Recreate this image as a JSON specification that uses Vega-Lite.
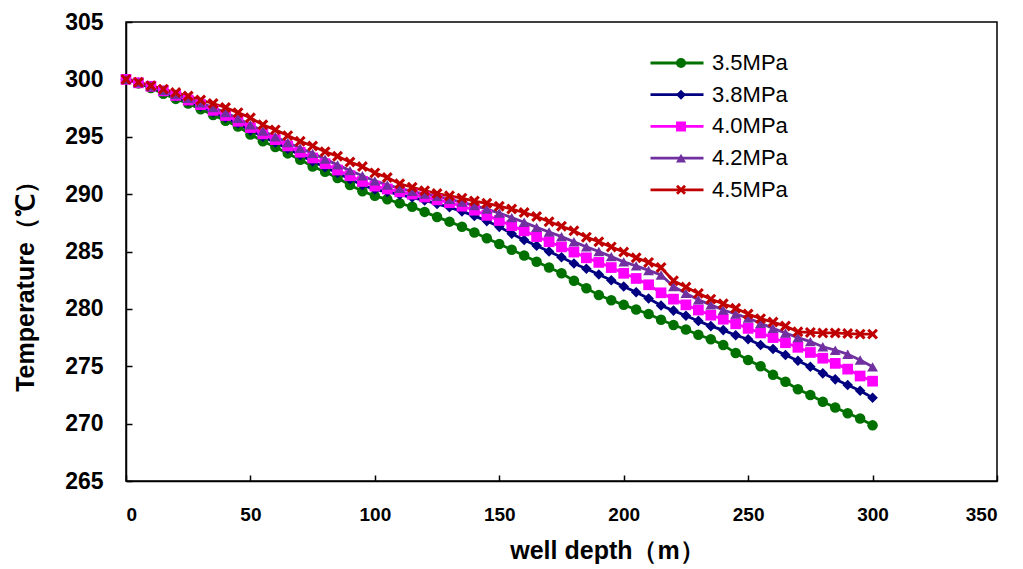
{
"$schema": "https://vega.github.io/schema/vega-lite/v6.json",
"width": 871, "height": 459,
"autosize": {"type": "none"},
"padding": {"left": 126, "top": 22, "right": 26, "bottom": 88},
"background": "white",
"config": {"view": {"stroke": "black", "strokeWidth": 1.5}, "font": "Liberation Sans"},
"datasets": {"t": [
{"d":0,"s":"3.5MPa","t":300.0},{"d":5,"s":"3.5MPa","t":299.65},{"d":10,"s":"3.5MPa","t":299.25},{"d":15,"s":"3.5MPa","t":298.75},{"d":20,"s":"3.5MPa","t":298.3},{"d":25,"s":"3.5MPa","t":297.9},{"d":30,"s":"3.5MPa","t":297.4},{"d":35,"s":"3.5MPa","t":296.9},{"d":40,"s":"3.5MPa","t":296.4},{"d":45,"s":"3.5MPa","t":295.9},
{"d":50,"s":"3.5MPa","t":295.2},{"d":55,"s":"3.5MPa","t":294.6},{"d":60,"s":"3.5MPa","t":294.1},{"d":65,"s":"3.5MPa","t":293.55},{"d":70,"s":"3.5MPa","t":293.0},{"d":75,"s":"3.5MPa","t":292.4},{"d":80,"s":"3.5MPa","t":291.95},{"d":85,"s":"3.5MPa","t":291.4},{"d":90,"s":"3.5MPa","t":290.8},{"d":95,"s":"3.5MPa","t":290.25},
{"d":100,"s":"3.5MPa","t":289.85},{"d":105,"s":"3.5MPa","t":289.55},{"d":110,"s":"3.5MPa","t":289.2},{"d":115,"s":"3.5MPa","t":288.9},{"d":120,"s":"3.5MPa","t":288.45},{"d":125,"s":"3.5MPa","t":288.0},{"d":130,"s":"3.5MPa","t":287.6},{"d":135,"s":"3.5MPa","t":287.15},{"d":140,"s":"3.5MPa","t":286.65},{"d":145,"s":"3.5MPa","t":286.15},
{"d":150,"s":"3.5MPa","t":285.65},{"d":155,"s":"3.5MPa","t":285.15},{"d":160,"s":"3.5MPa","t":284.65},{"d":165,"s":"3.5MPa","t":284.1},{"d":170,"s":"3.5MPa","t":283.6},{"d":175,"s":"3.5MPa","t":283.1},{"d":180,"s":"3.5MPa","t":282.45},{"d":185,"s":"3.5MPa","t":281.8},{"d":190,"s":"3.5MPa","t":281.2},{"d":195,"s":"3.5MPa","t":280.75},
{"d":200,"s":"3.5MPa","t":280.35},{"d":205,"s":"3.5MPa","t":279.95},{"d":210,"s":"3.5MPa","t":279.55},{"d":215,"s":"3.5MPa","t":279.05},{"d":220,"s":"3.5MPa","t":278.6},{"d":225,"s":"3.5MPa","t":278.2},{"d":230,"s":"3.5MPa","t":277.75},{"d":235,"s":"3.5MPa","t":277.35},{"d":240,"s":"3.5MPa","t":276.85},{"d":245,"s":"3.5MPa","t":276.15},
{"d":250,"s":"3.5MPa","t":275.55},{"d":255,"s":"3.5MPa","t":275.0},{"d":260,"s":"3.5MPa","t":274.25},{"d":265,"s":"3.5MPa","t":273.65},{"d":270,"s":"3.5MPa","t":273.0},{"d":275,"s":"3.5MPa","t":272.5},{"d":280,"s":"3.5MPa","t":271.9},{"d":285,"s":"3.5MPa","t":271.4},{"d":290,"s":"3.5MPa","t":270.9},{"d":295,"s":"3.5MPa","t":270.45},{"d":300,"s":"3.5MPa","t":269.85},
{"d":0,"s":"3.8MPa","t":300.0},{"d":5,"s":"3.8MPa","t":299.7},{"d":10,"s":"3.8MPa","t":299.35},{"d":15,"s":"3.8MPa","t":298.95},{"d":20,"s":"3.8MPa","t":298.5},{"d":25,"s":"3.8MPa","t":298.1},{"d":30,"s":"3.8MPa","t":297.65},{"d":35,"s":"3.8MPa","t":297.15},{"d":40,"s":"3.8MPa","t":296.65},{"d":45,"s":"3.8MPa","t":296.15},
{"d":50,"s":"3.8MPa","t":295.55},{"d":55,"s":"3.8MPa","t":295.0},{"d":60,"s":"3.8MPa","t":294.5},{"d":65,"s":"3.8MPa","t":293.95},{"d":70,"s":"3.8MPa","t":293.4},{"d":75,"s":"3.8MPa","t":292.85},{"d":80,"s":"3.8MPa","t":292.35},{"d":85,"s":"3.8MPa","t":291.85},{"d":90,"s":"3.8MPa","t":291.3},{"d":95,"s":"3.8MPa","t":290.8},
{"d":100,"s":"3.8MPa","t":290.4},{"d":105,"s":"3.8MPa","t":290.2},{"d":110,"s":"3.8MPa","t":289.95},{"d":115,"s":"3.8MPa","t":289.7},{"d":120,"s":"3.8MPa","t":289.45},{"d":125,"s":"3.8MPa","t":289.15},{"d":130,"s":"3.8MPa","t":288.85},{"d":135,"s":"3.8MPa","t":288.5},{"d":140,"s":"3.8MPa","t":288.1},{"d":145,"s":"3.8MPa","t":287.65},
{"d":150,"s":"3.8MPa","t":287.15},{"d":155,"s":"3.8MPa","t":286.55},{"d":160,"s":"3.8MPa","t":286.0},{"d":165,"s":"3.8MPa","t":285.5},{"d":170,"s":"3.8MPa","t":285.0},{"d":175,"s":"3.8MPa","t":284.5},{"d":180,"s":"3.8MPa","t":283.95},{"d":185,"s":"3.8MPa","t":283.5},{"d":190,"s":"3.8MPa","t":283.0},{"d":195,"s":"3.8MPa","t":282.5},
{"d":200,"s":"3.8MPa","t":281.95},{"d":205,"s":"3.8MPa","t":281.45},{"d":210,"s":"3.8MPa","t":280.9},{"d":215,"s":"3.8MPa","t":280.3},{"d":220,"s":"3.8MPa","t":279.85},{"d":225,"s":"3.8MPa","t":279.4},{"d":230,"s":"3.8MPa","t":278.95},{"d":235,"s":"3.8MPa","t":278.5},{"d":240,"s":"3.8MPa","t":278.15},{"d":245,"s":"3.8MPa","t":277.7},
{"d":250,"s":"3.8MPa","t":277.35},{"d":255,"s":"3.8MPa","t":276.85},{"d":260,"s":"3.8MPa","t":276.5},{"d":265,"s":"3.8MPa","t":275.98},{"d":270,"s":"3.8MPa","t":275.48},{"d":275,"s":"3.8MPa","t":274.96},{"d":280,"s":"3.8MPa","t":274.38},{"d":285,"s":"3.8MPa","t":273.86},{"d":290,"s":"3.8MPa","t":273.37},{"d":295,"s":"3.8MPa","t":272.87},{"d":300,"s":"3.8MPa","t":272.25},
{"d":0,"s":"4.0MPa","t":300.0},{"d":5,"s":"4.0MPa","t":299.7},{"d":10,"s":"4.0MPa","t":299.4},{"d":15,"s":"4.0MPa","t":299.0},{"d":20,"s":"4.0MPa","t":298.6},{"d":25,"s":"4.0MPa","t":298.2},{"d":30,"s":"4.0MPa","t":297.8},{"d":35,"s":"4.0MPa","t":297.3},{"d":40,"s":"4.0MPa","t":296.85},{"d":45,"s":"4.0MPa","t":296.35},
{"d":50,"s":"4.0MPa","t":295.8},{"d":55,"s":"4.0MPa","t":295.25},{"d":60,"s":"4.0MPa","t":294.75},{"d":65,"s":"4.0MPa","t":294.2},{"d":70,"s":"4.0MPa","t":293.65},{"d":75,"s":"4.0MPa","t":293.15},{"d":80,"s":"4.0MPa","t":292.65},{"d":85,"s":"4.0MPa","t":292.1},{"d":90,"s":"4.0MPa","t":291.6},{"d":95,"s":"4.0MPa","t":291.1},
{"d":100,"s":"4.0MPa","t":290.7},{"d":105,"s":"4.0MPa","t":290.45},{"d":110,"s":"4.0MPa","t":290.2},{"d":115,"s":"4.0MPa","t":290.0},{"d":120,"s":"4.0MPa","t":289.75},{"d":125,"s":"4.0MPa","t":289.5},{"d":130,"s":"4.0MPa","t":289.25},{"d":135,"s":"4.0MPa","t":288.95},{"d":140,"s":"4.0MPa","t":288.6},{"d":145,"s":"4.0MPa","t":288.15},
{"d":150,"s":"4.0MPa","t":287.7},{"d":155,"s":"4.0MPa","t":287.25},{"d":160,"s":"4.0MPa","t":286.8},{"d":165,"s":"4.0MPa","t":286.3},{"d":170,"s":"4.0MPa","t":285.85},{"d":175,"s":"4.0MPa","t":285.4},{"d":180,"s":"4.0MPa","t":284.95},{"d":185,"s":"4.0MPa","t":284.45},{"d":190,"s":"4.0MPa","t":284.05},{"d":195,"s":"4.0MPa","t":283.6},
{"d":200,"s":"4.0MPa","t":283.1},{"d":205,"s":"4.0MPa","t":282.65},{"d":210,"s":"4.0MPa","t":282.1},{"d":215,"s":"4.0MPa","t":281.4},{"d":220,"s":"4.0MPa","t":280.85},{"d":225,"s":"4.0MPa","t":280.35},{"d":230,"s":"4.0MPa","t":279.9},{"d":235,"s":"4.0MPa","t":279.45},{"d":240,"s":"4.0MPa","t":279.1},{"d":245,"s":"4.0MPa","t":278.7},
{"d":250,"s":"4.0MPa","t":278.3},{"d":255,"s":"4.0MPa","t":277.9},{"d":260,"s":"4.0MPa","t":277.5},{"d":265,"s":"4.0MPa","t":277.05},{"d":270,"s":"4.0MPa","t":276.65},{"d":275,"s":"4.0MPa","t":276.2},{"d":280,"s":"4.0MPa","t":275.7},{"d":285,"s":"4.0MPa","t":275.25},{"d":290,"s":"4.0MPa","t":274.75},{"d":295,"s":"4.0MPa","t":274.15},{"d":300,"s":"4.0MPa","t":273.7},
{"d":0,"s":"4.2MPa","t":300.0},{"d":5,"s":"4.2MPa","t":299.72},{"d":10,"s":"4.2MPa","t":299.42},{"d":15,"s":"4.2MPa","t":299.05},{"d":20,"s":"4.2MPa","t":298.7},{"d":25,"s":"4.2MPa","t":298.35},{"d":30,"s":"4.2MPa","t":297.95},{"d":35,"s":"4.2MPa","t":297.55},{"d":40,"s":"4.2MPa","t":297.1},{"d":45,"s":"4.2MPa","t":296.6},
{"d":50,"s":"4.2MPa","t":296.05},{"d":55,"s":"4.2MPa","t":295.5},{"d":60,"s":"4.2MPa","t":295.0},{"d":65,"s":"4.2MPa","t":294.5},{"d":70,"s":"4.2MPa","t":294.0},{"d":75,"s":"4.2MPa","t":293.55},{"d":80,"s":"4.2MPa","t":293.05},{"d":85,"s":"4.2MPa","t":292.55},{"d":90,"s":"4.2MPa","t":292.05},{"d":95,"s":"4.2MPa","t":291.6},
{"d":100,"s":"4.2MPa","t":291.15},{"d":105,"s":"4.2MPa","t":290.8},{"d":110,"s":"4.2MPa","t":290.5},{"d":115,"s":"4.2MPa","t":290.25},{"d":120,"s":"4.2MPa","t":290.0},{"d":125,"s":"4.2MPa","t":289.8},{"d":130,"s":"4.2MPa","t":289.55},{"d":135,"s":"4.2MPa","t":289.3},{"d":140,"s":"4.2MPa","t":289.0},{"d":145,"s":"4.2MPa","t":288.7},
{"d":150,"s":"4.2MPa","t":288.35},{"d":155,"s":"4.2MPa","t":287.95},{"d":160,"s":"4.2MPa","t":287.55},{"d":165,"s":"4.2MPa","t":287.1},{"d":170,"s":"4.2MPa","t":286.7},{"d":175,"s":"4.2MPa","t":286.3},{"d":180,"s":"4.2MPa","t":285.85},{"d":185,"s":"4.2MPa","t":285.4},{"d":190,"s":"4.2MPa","t":285.0},{"d":195,"s":"4.2MPa","t":284.55},
{"d":200,"s":"4.2MPa","t":284.1},{"d":205,"s":"4.2MPa","t":283.75},{"d":210,"s":"4.2MPa","t":283.35},{"d":215,"s":"4.2MPa","t":282.95},{"d":220,"s":"4.2MPa","t":281.95},{"d":225,"s":"4.2MPa","t":281.35},{"d":230,"s":"4.2MPa","t":280.8},{"d":235,"s":"4.2MPa","t":280.35},{"d":240,"s":"4.2MPa","t":279.9},{"d":245,"s":"4.2MPa","t":279.55},
{"d":250,"s":"4.2MPa","t":279.2},{"d":255,"s":"4.2MPa","t":278.75},{"d":260,"s":"4.2MPa","t":278.3},{"d":265,"s":"4.2MPa","t":277.9},{"d":270,"s":"4.2MPa","t":277.5},{"d":275,"s":"4.2MPa","t":277.15},{"d":280,"s":"4.2MPa","t":276.7},{"d":285,"s":"4.2MPa","t":276.4},{"d":290,"s":"4.2MPa","t":276.05},{"d":295,"s":"4.2MPa","t":275.55},{"d":300,"s":"4.2MPa","t":274.95},
{"d":0,"s":"4.5MPa","t":300.0},{"d":5,"s":"4.5MPa","t":299.75},{"d":10,"s":"4.5MPa","t":299.45},{"d":15,"s":"4.5MPa","t":299.15},{"d":20,"s":"4.5MPa","t":298.85},{"d":25,"s":"4.5MPa","t":298.55},{"d":30,"s":"4.5MPa","t":298.2},{"d":35,"s":"4.5MPa","t":297.9},{"d":40,"s":"4.5MPa","t":297.55},{"d":45,"s":"4.5MPa","t":297.1},
{"d":50,"s":"4.5MPa","t":296.65},{"d":55,"s":"4.5MPa","t":296.05},{"d":60,"s":"4.5MPa","t":295.6},{"d":65,"s":"4.5MPa","t":295.1},{"d":70,"s":"4.5MPa","t":294.6},{"d":75,"s":"4.5MPa","t":294.2},{"d":80,"s":"4.5MPa","t":293.7},{"d":85,"s":"4.5MPa","t":293.3},{"d":90,"s":"4.5MPa","t":292.8},{"d":95,"s":"4.5MPa","t":292.4},
{"d":100,"s":"4.5MPa","t":291.85},{"d":105,"s":"4.5MPa","t":291.45},{"d":110,"s":"4.5MPa","t":290.9},{"d":115,"s":"4.5MPa","t":290.6},{"d":120,"s":"4.5MPa","t":290.3},{"d":125,"s":"4.5MPa","t":290.05},{"d":130,"s":"4.5MPa","t":289.85},{"d":135,"s":"4.5MPa","t":289.65},{"d":140,"s":"4.5MPa","t":289.4},{"d":145,"s":"4.5MPa","t":289.2},
{"d":150,"s":"4.5MPa","t":288.95},{"d":155,"s":"4.5MPa","t":288.7},{"d":160,"s":"4.5MPa","t":288.4},{"d":165,"s":"4.5MPa","t":288.05},{"d":170,"s":"4.5MPa","t":287.6},{"d":175,"s":"4.5MPa","t":287.2},{"d":180,"s":"4.5MPa","t":286.8},{"d":185,"s":"4.5MPa","t":286.25},{"d":190,"s":"4.5MPa","t":285.85},{"d":195,"s":"4.5MPa","t":285.4},
{"d":200,"s":"4.5MPa","t":284.95},{"d":205,"s":"4.5MPa","t":284.45},{"d":210,"s":"4.5MPa","t":284.05},{"d":215,"s":"4.5MPa","t":283.6},{"d":220,"s":"4.5MPa","t":282.45},{"d":225,"s":"4.5MPa","t":281.9},{"d":230,"s":"4.5MPa","t":281.35},{"d":235,"s":"4.5MPa","t":280.85},{"d":240,"s":"4.5MPa","t":280.45},{"d":245,"s":"4.5MPa","t":280.05},
{"d":250,"s":"4.5MPa","t":279.55},{"d":255,"s":"4.5MPa","t":279.15},{"d":260,"s":"4.5MPa","t":278.85},{"d":265,"s":"4.5MPa","t":278.5},{"d":270,"s":"4.5MPa","t":278.0},{"d":275,"s":"4.5MPa","t":277.95},{"d":280,"s":"4.5MPa","t":277.9},{"d":285,"s":"4.5MPa","t":277.9},{"d":290,"s":"4.5MPa","t":277.85},{"d":295,"s":"4.5MPa","t":277.8},{"d":300,"s":"4.5MPa","t":277.8}
]},
"data": {"name": "t"},
"encoding": {
  "x": {"field": "d", "type": "quantitative", "scale": {"domain": [0, 350], "nice": false, "zero": false},
        "axis": {"values": [0,50,100,150,200,250,300,350], "grid": false, "domainColor": "black", "domainWidth": 1.5,
                 "tickColor": "black", "tickWidth": 1.5, "tickSize": -6, "labelPadding": 30,
                 "labelFont": "Liberation Sans", "labelFontSize": 19, "labelFontWeight": "bold", "labelColor": "black",
                 "title": "well depth（m）", "titleFont": "Liberation Sans", "titleFontSize": 25, "titleFontWeight": "bold",
                 "titleColor": "black", "titleX": 481, "titleY": 69, "titleAlign": "center", "titleBaseline": "middle"}},
  "y": {"field": "t", "type": "quantitative", "scale": {"domain": [265, 305], "nice": false, "zero": false},
        "axis": {"values": [265,270,275,280,285,290,295,300,305], "grid": false, "domainColor": "black", "domainWidth": 1.5,
                 "tickColor": "black", "tickWidth": 1.5, "tickSize": -6, "labelPadding": 29,
                 "labelFont": "Liberation Sans", "labelFontSize": 23, "labelFontWeight": "bold", "labelColor": "black",
                 "title": "Temperature（℃）", "titleFont": "Liberation Sans", "titleFontSize": 25, "titleFontWeight": "bold",
                 "titleColor": "black", "titleX": -101, "titleY": 258, "titleAlign": "center", "titleBaseline": "middle", "titleAngle": -90}}
},
"layer": [
  {"mark": {"type": "line", "strokeWidth": 2.8},
   "encoding": {"color": {"field": "s", "type": "nominal",
      "scale": {"domain": ["3.5MPa","3.8MPa","4.0MPa","4.2MPa","4.5MPa"], "range": ["#007000","#000080","#FF00FF","#7030A0","#C00000"]},
      "legend": {"orient": "none", "legendX": 523, "legendY": 31, "title": null, "symbolType": "stroke", "symbolSize": 2809,
                 "symbolStrokeWidth": 2.8, "clipHeight": 20, "rowPadding": 9.7, "padding": 0,
                 "labelFont": "Liberation Sans", "labelFontSize": 22, "labelColor": "black", "labelOffset": 7}}}},
  {"mark": {"type": "point", "filled": true, "opacity": 1},
   "encoding": {
      "color": {"field": "s", "type": "nominal",
        "legend": {"orient": "none", "legendX": 544, "legendY": 31, "title": null, "symbolSize": 100, "clipHeight": 20, "rowPadding": 9.7, "padding": 0,
                   "labelFont": "Liberation Sans", "labelFontSize": 22, "labelExpr": "''", "labelOffset": 7}},
      "shape": {"field": "s", "type": "nominal",
        "scale": {"domain": ["3.5MPa","3.8MPa","4.0MPa","4.2MPa","4.5MPa"],
                  "range": ["circle","diamond","square","triangle-up","M-1,-0.6L-0.6,-1L0,-0.4L0.6,-1L1,-0.6L0.4,0L1,0.6L0.6,1L0,0.4L-0.6,1L-1,0.6L-0.4,0Z"]},
        "legend": {"orient": "none", "legendX": 544, "legendY": 31, "title": null, "symbolSize": 100, "clipHeight": 20, "rowPadding": 9.7, "padding": 0,
                   "labelFont": "Liberation Sans", "labelFontSize": 22, "labelExpr": "''", "labelOffset": 7}},
      "size": {"field": "s", "type": "nominal", "legend": null,
        "scale": {"domain": ["3.5MPa","3.8MPa","4.0MPa","4.2MPa","4.5MPa"], "range": [110, 120, 100, 120, 110]}}
   }}
],
"resolve": {"legend": {"color": "independent", "shape": "independent"}}
}
